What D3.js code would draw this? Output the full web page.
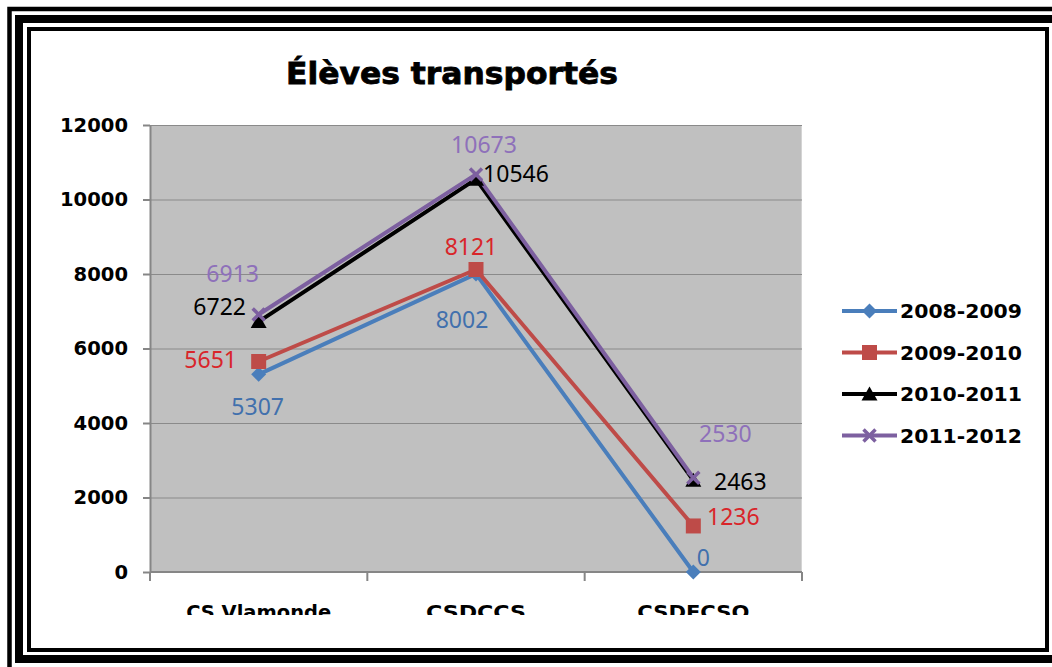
<!DOCTYPE html>
<style>
  body { margin: 0; background: #fff; }
  .title { font: bold 30px "DejaVu Sans", sans-serif; }
  .tick text { font: bold 19px "DejaVu Sans", sans-serif; fill: #000; }
  .cat { font: bold 20px "DejaVu Sans", sans-serif; }
  .lab { font: 23px "Noto Sans", sans-serif; }
  .legendText { font: bold 19px "DejaVu Sans", sans-serif; }
</style>
<svg width="1052" height="667"></svg>
<script src="https://d3js.org/d3.v7.min.js"></script>
<script>

// data
var categories = ["CS Vlamonde", "CSDCCS", "CSDFCSO"];
var seriesNames = ["2008-2009", "2009-2010", "2010-2011", "2011-2012"];
var v2008 = [5307, 8002, 0];
var v2009 = [5651, 8121, 1236];
var v2010 = [6722, 10546, 2463];
var v2011 = [6913, 10673, 2530];
var yTicks = [0, 2000, 4000, 6000, 8000, 10000, 12000];

// look
var lineColors = ["#4a7ebb", "#be4b48", "#000000", "#7d60a0"];
var textColors = ["#4170ad", "#d9252a", "#000000", "#8e70ba"];
var symbols = ["diamond", "square", "triangle", "x"];
// label nudges from the point (dx, dy of text baseline, anchor middle)
var labelNudge = [
  [[-1, 41], [-14, 54], [10, -6]],
  [[-48, 6], [-5, -14], [40, -1]],
  [[-39, -7], [40, 3], [47, 10]],
  [[-26, -32], [8, -21], [32, -36]]
];

var allValues = [v2008, v2009, v2010, v2011];

var svg = d3.select("svg");

// triple frame
svg.append("rect").attr("x", 9.5).attr("y", 9).attr("width", 1070).attr("height", 680)
  .attr("fill", "none").attr("stroke", "#000").attr("stroke-width", 4.5);
svg.append("rect").attr("x", 19).attr("y", 19).attr("width", 1045).attr("height", 640)
  .attr("fill", "none").attr("stroke", "#000").attr("stroke-width", 8);
svg.append("rect").attr("x", 29).attr("y", 29).attr("width", 1018).attr("height", 621)
  .attr("fill", "#fff").attr("stroke", "#000").attr("stroke-width", 4);

var margin = {top: 125, left: 150},
    width = 652,
    height = 447;

var g = svg.append("g").attr("transform", "translate(" + margin.left + "," + margin.top + ")");

var x = d3.scaleBand().domain(categories).range([0, width]);
var y = d3.scaleLinear().domain([0, 12000]).range([height, 0]);

g.append("rect").attr("width", width).attr("height", height).attr("fill", "#c0c0c0");
g.append("line").attr("x1", 0).attr("x2", width).attr("y1", 0.5).attr("y2", 0.5)
  .attr("stroke", "#d4d4d4");
g.append("line").attr("x1", width - 0.5).attr("x2", width - 0.5).attr("y1", 0).attr("y2", height)
  .attr("stroke", "#d4d4d4");

// grid
g.append("g")
  .call(d3.axisLeft(y).tickValues(yTicks).tickSize(-width).tickFormat(""))
  .call(function(s) {
    s.select(".domain").remove();
    s.selectAll("line").attr("stroke", "#8a8a8a").attr("stroke-width", 1);
  });

// y axis
g.append("g")
  .call(d3.axisLeft(y).tickValues(yTicks).tickFormat(d3.format("d"))
    .tickSize(7).tickPadding(15).tickSizeOuter(0))
  .call(function(s) {
    s.select(".domain").attr("stroke", "#868686").attr("stroke-width", 2);
    s.selectAll(".tick line").attr("stroke", "#868686").attr("stroke-width", 2);
    s.selectAll(".tick text").attr("textLength", function(d) { return String(d).length * 13.6; })
      .attr("lengthAdjust", "spacingAndGlyphs");
  });

// x axis
var xa = g.append("g").attr("transform", "translate(0," + height + ")");
xa.append("line").attr("x1", 0).attr("x2", width).attr("stroke", "#868686").attr("stroke-width", 2);
xa.selectAll(".xt").data(d3.range(categories.length + 1)).enter().append("line")
  .attr("x1", function(i) { return i * x.step(); })
  .attr("x2", function(i) { return i * x.step(); })
  .attr("y1", 0).attr("y2", 9)
  .attr("stroke", "#868686").attr("stroke-width", 2);

svg.append("clipPath").attr("id", "catclip").append("rect")
  .attr("x", 0).attr("y", 0).attr("width", 1052).attr("height", 615);
var catW = {"CS Vlamonde": 145, "CSDCCS": 100, "CSDFCSO": 112};
svg.append("g").attr("clip-path", "url(#catclip)")
  .selectAll("text").data(categories).enter().append("text")
  .attr("class", "cat")
  .attr("x", function(d) { return margin.left + x(d) + x.bandwidth() / 2; })
  .attr("y", 619)
  .attr("text-anchor", "middle")
  .attr("textLength", function(d) { return catW[d]; })
  .attr("lengthAdjust", "spacingAndGlyphs")
  .text(function(d) { return d; });

// title
svg.append("text").attr("class", "title")
  .attr("x", 452).attr("y", 84)
  .attr("text-anchor", "middle")
  .attr("textLength", 332).attr("lengthAdjust", "spacingAndGlyphs")
  .attr("stroke", "#000").attr("stroke-width", 0.8)
  .text("Élèves transportés");

function markerPath(kind) {
  if (kind === "diamond") return "M0,-7.5L7.5,0L0,7.5L-7.5,0Z";
  if (kind === "square") return "M-7.5,-7.5H7.5V7.5H-7.5Z";
  if (kind === "triangle") return "M0,-7.5L8,6.5H-8Z";
  return "M-6,-6L6,6M6,-6L-6,6";
}

function drawMarker(sel, i) {
  var p = sel.append("path").attr("d", markerPath(symbols[i]));
  if (symbols[i] === "x") {
    p.attr("fill", "none").attr("stroke", lineColors[i]).attr("stroke-width", 3.5);
  } else {
    p.attr("fill", lineColors[i]);
  }
}

var line = d3.line()
  .x(function(d, j) { return x(categories[j]) + x.bandwidth() / 2; })
  .y(function(d) { return y(d); });

allValues.forEach(function(vals, i) {
  g.append("path").datum(vals)
    .attr("fill", "none")
    .attr("stroke", lineColors[i])
    .attr("stroke-width", 4)
    .attr("stroke-linejoin", "round")
    .attr("d", line);
});

allValues.forEach(function(vals, i) {
  vals.forEach(function(v, j) {
    var m = g.append("g")
      .attr("transform", "translate(" + (x(categories[j]) + x.bandwidth() / 2) + "," + y(v) + ")");
    drawMarker(m, i);
  });
});

allValues.forEach(function(vals, i) {
  g.selectAll(".lab" + i).data(vals).enter().append("text")
    .attr("class", "lab")
    .attr("fill", textColors[i])
    .attr("text-anchor", "middle")
    .attr("x", function(d, j) { return x(categories[j]) + x.bandwidth() / 2 + labelNudge[i][j][0]; })
    .attr("y", function(d, j) { return y(d) + labelNudge[i][j][1]; })
    .text(function(d) { return d; });
});

// legend
var legend = svg.append("g").attr("transform", "translate(842,311)");
seriesNames.forEach(function(name, i) {
  var row = legend.append("g").attr("transform", "translate(0," + (i * 41.5) + ")");
  row.append("line").attr("x1", 0).attr("x2", 55)
    .attr("stroke", lineColors[i]).attr("stroke-width", 4);
  var m = row.append("g").attr("transform", "translate(27.5,0)");
  drawMarker(m, i);
  row.append("text").attr("class", "legendText")
    .attr("x", 58).attr("y", 7)
    .attr("textLength", 122).attr("lengthAdjust", "spacingAndGlyphs")
    .text(name);
});

</script>
